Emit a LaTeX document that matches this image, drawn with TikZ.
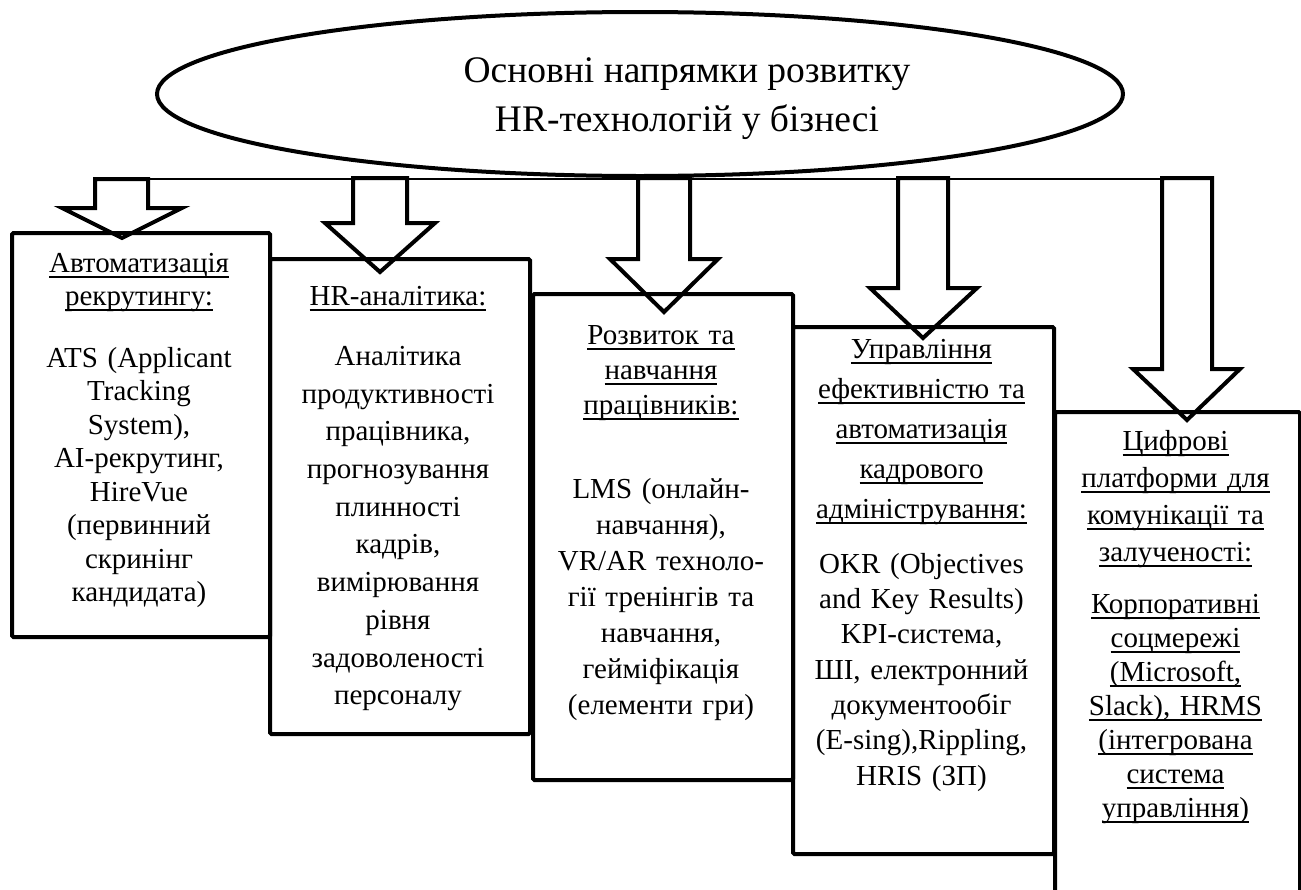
\documentclass[tikz,border=0pt]{standalone}
\usepackage{fontspec}
\setmainfont{Liberation Serif}
\usepackage{tikz}
\usetikzlibrary{shapes.geometric}

% underline at a fixed depth, as the word processor does
\newcommand{\undl}[1]{\leavevmode\setbox0\hbox{#1}\rlap{\rule[-5.5pt]{\wd0}{1.6pt}}\box0}

\tikzset{
  hrbox/.style={draw=black,line width=4pt,anchor=north west,inner sep=0pt,rounded corners=1.5pt},
  hrarrow/.style={draw=black,line width=4pt,line join=miter},
  hrtext/.style={anchor=north,inner sep=0pt,text width=280pt,align=center,
    font=\fontsize{29}{#1}\selectfont},
}

\begin{document}
\begin{tikzpicture}[x=1pt,y=-1pt]
\useasboundingbox (0,0) rectangle (1301,889);
\clip (0,0) rectangle (1301,889);

% oval with the title
\node[draw=black,line width=4pt,ellipse,minimum width=966pt,minimum height=164pt,inner sep=0pt] (goal) at (640,94) {};
\node[anchor=north,inner sep=0pt,align=center,font=\fontsize{37.5}{49}\selectfont] (goaltext) at (687,57)
  {Основні напрямки розвитку\\HR-технологій у бізнесі};

% thin bar under the oval
\coordinate (barstart) at (95,179);
\coordinate (barend) at (1162,179);
\draw[line width=1.8pt] (barstart) -- (barend);

% boxes, left to right
\node[hrbox,minimum width=258pt,minimum height=404pt] (recruit) at (10,231) {};
\node[hrbox,minimum width=260pt,minimum height=475pt] (analytics) at (268,257) {};
\node[hrbox,minimum width=260pt,minimum height=486pt] (training) at (531,292) {};
\node[hrbox,minimum width=261pt,minimum height=527pt] (perform) at (791,325) {};
\node[hrbox,minimum width=245pt,minimum height=540pt] (digital) at (1053,410) {};

% block arrows
\draw[hrarrow] (95,179) -- (148,179) -- (148,208) -- (182,208) -- (122,238) -- (62,208) -- (95,208) -- cycle;
\draw[hrarrow] (353,178) -- (407,178) -- (407,223) -- (435,223) -- (380,272) -- (325,223) -- (353,223) -- cycle;
\draw[hrarrow] (638,178) -- (690,178) -- (690,259) -- (718,259) -- (664,312) -- (610,259) -- (638,259) -- cycle;
\draw[hrarrow] (898,178) -- (948,178) -- (948,288) -- (977,288) -- (923,338) -- (870,288) -- (898,288) -- cycle;
\draw[hrarrow] (1162,178) -- (1212,178) -- (1212,369) -- (1240,369) -- (1187,420) -- (1133,369) -- (1162,369) -- cycle;

% texts
\node[hrtext=33] (recruithead) at (139,253) {\undl{Автоматизація}\\\undl{рекрутингу:}};
\node[hrtext=33.5] (recruitbody) at (139,347)
  {ATS (Applicant\\Tracking\\System),\\AI-рекрутинг,\\HireVue\\(первинний\\скринінг\\кандидата)};

\node[hrtext=33] (analyticshead) at (398,286) {\undl{HR-аналітика:}};
\node[hrtext=37.7] (analyticsbody) at (398,346)
  {Аналітика\\продуктивності\\працівника,\\прогнозування\\плинності\\кадрів,\\вимірювання\\рівня\\задоволеності\\персоналу};

\node[hrtext=35] (traininghead) at (661,325) {\undl{Розвиток та}\\\undl{навчання}\\\undl{працівників:}};
\node[hrtext=36] (trainingbody) at (661,478)
  {LMS (онлайн-\\навчання),\\VR/AR техноло-\\гії тренінгів та\\навчання,\\гейміфікація\\(елементи гри)};

\node[hrtext=40] (performhead) at (921.5,339)
  {\undl{Управління}\\\undl{ефективністю та}\\\undl{автоматизація}\\\undl{кадрового}\\\undl{адміністрування:}};
\node[hrtext=35.3] (performbody) at (921.5,553)
  {OKR (Objectives\\and Key Results)\\KPI-система,\\ШІ, електронний\\документообіг\\(E-sing),Rippling,\\HRIS (ЗП)};

\node[hrtext=37] (digitalhead) at (1175.5,430)
  {\undl{Цифрові}\\\undl{платформи для}\\\undl{комунікації та}\\\undl{залученості:}};
\node[hrtext=34] (digitalbody) at (1175.5,594)
  {\undl{Корпоративні}\\\undl{соцмережі}\\\undl{(Microsoft,}\\\undl{Slack), HRMS}\\\undl{(інтегрована}\\\undl{система}\\\undl{управління)}};
\end{tikzpicture}
\end{document}
